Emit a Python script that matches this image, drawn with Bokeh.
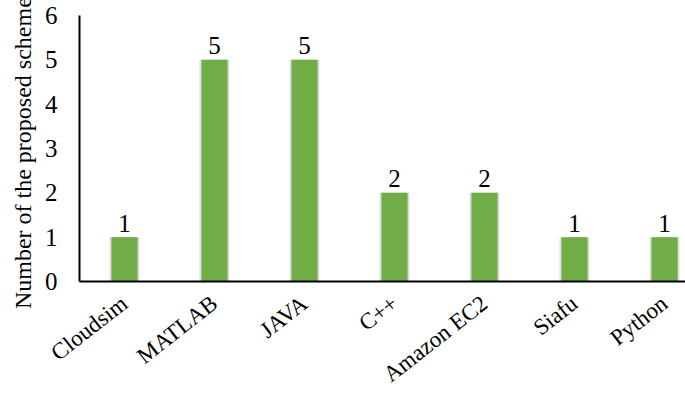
from bokeh.plotting import figure
from bokeh.models import Range1d, FixedTicker, ColumnDataSource
from bokeh.embed import file_html
from bokeh.resources import INLINE
import math

categories = ["Cloudsim", "MATLAB", "JAVA", "C++", "Amazon EC2", "Siafu", "Python"]
values = [1, 5, 5, 2, 2, 1, 1]
y_ticks = [0, 1, 2, 3, 4, 5, 6]

x = list(range(len(categories)))
src = ColumnDataSource(dict(x=x, v=values, lbl=[str(v) for v in values]))

FONT = "Liberation Serif"
p = figure(width=685, height=399, output_backend="svg", toolbar_location=None,
           x_range=Range1d(-0.5, 6.233), y_range=Range1d(0, 6),
           min_border_left=79, min_border_right=0, min_border_top=15, min_border_bottom=117)
p.outline_line_color = None
p.xgrid.visible = False
p.ygrid.visible = False
p.background_fill_color = "white"
p.border_fill_color = "white"

# soft shadow
p.vbar(x="x", top="v", bottom=0, width=0.34, source=src, color="#888888", alpha=0.18, line_color=None)
p.vbar(x="x", top="v", bottom=0, width=0.31, source=src, color="#888888", alpha=0.25, line_color=None)
p.vbar(x="x", top="v", bottom=0, width=0.289, source=src, color="#70AD47", line_color=None)

p.text(x="x", y="v", text="lbl", source=src, text_align="center", text_baseline="alphabetic",
       y_offset=-14, text_font="Liberation Serif", text_font_size="25px", text_color="black")

xa = p.xaxis[0]
xa.ticker = FixedTicker(ticks=x)
xa.major_label_overrides = {i: c for i, c in enumerate(categories)}
xa.major_label_orientation = math.radians(38)
xa.major_label_text_font = FONT
xa.major_label_text_font_size = "23px"
xa.major_label_text_line_height = 0.8
xa.major_label_text_color = "black"
xa.major_tick_line_color = None
xa.minor_tick_line_color = None
xa.major_tick_out = 0
xa.major_tick_in = 0
xa.major_label_standoff = 19
xa.axis_line_color = "black"
xa.axis_line_width = 2

ya = p.yaxis[0]
ya.ticker = FixedTicker(ticks=y_ticks)
ya.axis_label = "Number of the proposed schemes"
ya.axis_label_text_font = FONT
ya.axis_label_text_font_size = "24px"
ya.axis_label_text_font_style = "normal"
ya.axis_label_text_color = "black"
ya.axis_label_standoff = 6
ya.major_label_text_font = FONT
ya.major_label_text_font_size = "25px"
ya.major_label_text_color = "black"
ya.major_tick_line_color = None
ya.minor_tick_line_color = None
ya.major_tick_out = 0
ya.major_tick_in = 0
ya.major_label_standoff = 22
ya.axis_line_color = "black"
ya.axis_line_width = 2

open("out.html", "w").write(file_html(p, INLINE))
